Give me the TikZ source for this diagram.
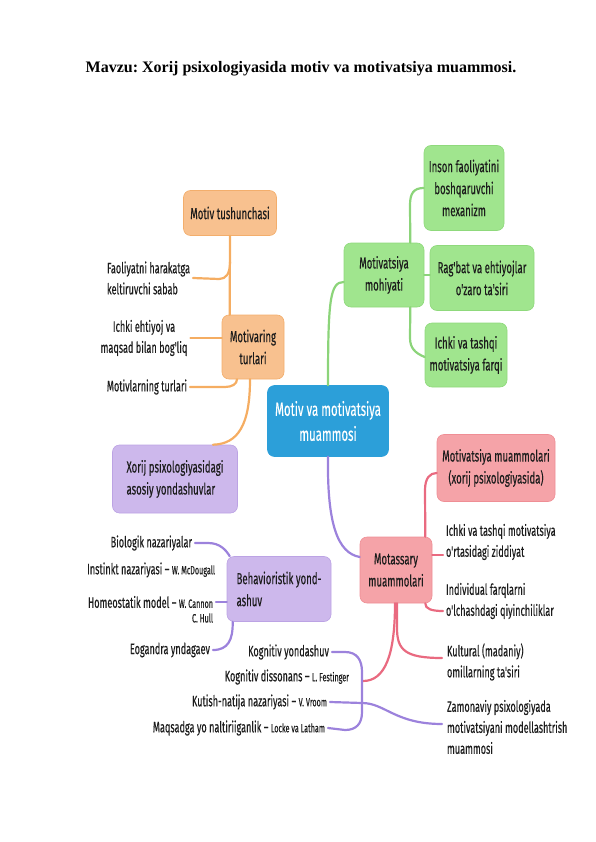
\documentclass[tikz,border=0pt]{standalone}
\usepackage{fontspec}
\setmainfont{Liberation Serif}
\newfontfamily\cf[FakeStretch=0.6,FakeBold=0.3]{Fira Sans}
\newcommand\authr[1]{{\fontsize{12}{14}\selectfont #1}}
\definecolor{ofill}{HTML}{F8C18F}
\definecolor{obord}{HTML}{F3AE6C}
\definecolor{olin}{HTML}{F5AD62}
\definecolor{gfill}{HTML}{A0E58E}
\definecolor{gbord}{HTML}{8FD97C}
\definecolor{glin}{HTML}{8CD47A}
\definecolor{bfill}{HTML}{2C9FD9}
\definecolor{pfill}{HTML}{F5A3A8}
\definecolor{pbord}{HTML}{EF8E95}
\definecolor{plin}{HTML}{E96A80}
\definecolor{vfill}{HTML}{CDB8EC}
\definecolor{vbord}{HTML}{BCA3E4}
\definecolor{vlin}{HTML}{9C82DC}
\definecolor{ink}{HTML}{1C1C1C}
\frenchspacing
\begin{document}
\begin{tikzpicture}[x=1pt,y=-1pt,
  box/.style={rounded corners=7pt, align=center, inner sep=2pt, line width=0.6pt,
    font=\cf\fontsize{16}{22}\selectfont, text=ink},
  obox/.style={box, fill=ofill, draw=obord},
  gbox/.style={box, fill=gfill, draw=gbord},
  pbox/.style={box, fill=pfill, draw=pbord},
  vbox/.style={box, fill=vfill, draw=vbord},
  cbox/.style={box, fill=bfill, draw=bfill, text=white, font=\cf\fontsize{19}{25}\selectfont},
  txt/.style={inner sep=0pt, outer sep=3pt, font=\cf\fontsize{15.2}{21}\selectfont, text=ink},
  lnk/.style={line width=2.2pt, line cap=round},
  oln/.style={lnk, draw=olin},
  gln/.style={lnk, draw=glin},
  pln/.style={lnk, draw=plin},
  vln/.style={lnk, draw=vlin}
]
\useasboundingbox (0,0) rectangle (596,842);

% title
\node[inner sep=0pt, font=\bfseries\fontsize{16}{19}\selectfont] (title) at (301,69)
  {Mavzu: Xorij psixologiyasida motiv va motivatsiya muammosi.};

% boxes
\node[obox, minimum width=93pt, minimum height=45pt] (tush) at (230,213) {Motiv tushunchasi};
\node[obox, minimum width=62pt, minimum height=64pt] (turl) at (253,347) {Motivaring\\turlari};
\node[gbox, minimum width=80pt, minimum height=64pt] (mohi) at (384,275) {Motivatsiya\\mohiyati};
\node[gbox, minimum width=80pt, minimum height=85pt] (inson) at (464,188) {Inson faoliyatini\\boshqaruvchi\\mexanizm};
\node[gbox, minimum width=104pt, minimum height=65pt] (rag) at (482,278) {Rag'bat va ehtiyojlar\\o'zaro ta'siri};
\node[gbox, minimum width=82pt, minimum height=64pt] (farq) at (466,355) {Ichki va tashqi\\motivatsiya farqi};
\node[cbox, minimum width=121pt, minimum height=71pt] (cent) at (328,421) {Motiv va motivatsiya\\muammosi};
\node[pbox, minimum width=118pt, minimum height=67pt] (mm) at (496,468) {Motivatsiya muammolari\\(xorij psixologiyasida)};
\node[pbox, minimum width=72pt, minimum height=66pt] (mot) at (396,570) {Motassary\\muammolari};
\node[vbox, align=left, minimum width=125pt, minimum height=68pt] (xorij) at (175,479) {Xorij psixologiyasidagi\\asosiy yondashuvlar};
\node[vbox, align=left, minimum width=104pt, minimum height=65pt] (beh) at (279,589) {Behavioristik yond-\\ashuv};

% plain texts (orange group)
\node[txt, anchor=west, align=left] (faol) at (104,278) {Faoliyatni harakatga\\keltiruvchi sabab};
\node[txt, align=center] (ichk) at (144,338) {Ichki ehtiyoj va\\maqsad bilan bog'liq};
\node[txt, anchor=east] (motl) at (190,387) {Motivlarning turlari};

% plain texts (pink group)
\node[txt, anchor=west, align=left] (zidd) at (443,542) {Ichki va tashqi motivatsiya\\o'rtasidagi ziddiyat};
\node[txt, anchor=west, align=left] (indiv) at (443,601) {Individual farqlarni\\o'lchashdagi qiyinchiliklar};
\node[txt, anchor=west, align=left] (kult) at (444,662) {Kultural (madaniy)\\omillarning ta'siri};
\node[txt, anchor=west, align=left] (zam) at (444,727) {Zamonaviy psixologiyada\\motivatsiyani modellashtrish\\muammosi};

% plain texts (purple group)
\node[txt, anchor=east] (bio) at (195,543) {Biologik nazariyalar};
\node[txt, anchor=east] (inst) at (218,570) {Instinkt nazariyasi – \authr{W. McDougall}};
\node[txt, anchor=east] (home) at (216,602) {Homeostatik model – \authr{W. Cannon}};
\node[txt, anchor=east] (hull) at (216,618) {\authr{C. Hull}};
\node[txt, anchor=east] (eog) at (213,650) {Eogandra yndagaev};
\node[txt, anchor=east] (kog) at (332,652) {Kognitiv yondashuv};
\node[txt, anchor=east] (diss) at (352,677) {Kognitiv dissonans – \authr{L. Festinger}};
\node[txt, anchor=east] (kut) at (330,702) {Kutish-natija nazariyasi – \authr{V. Vroom}};
\node[txt, anchor=east] (maq) at (328,728) {Maqsadga yo naltiriiganlik – \authr{Locke va Latham}};

% coordinates
\coordinate (oj) at (230,262);
\coordinate (fj) at (219,279);
\coordinate (gj1) at (410,205);
\coordinate (gj2) at (410,338);
\coordinate (pj1) at (425,490);
\coordinate (pind) at (443,611);
\coordinate (pk) at (442,658);
\coordinate (br) at (363,681);
\coordinate (bj1) at (345,652);
\coordinate (bj2) at (362,672);
\coordinate (bj3) at (362,712);
\coordinate (bj4) at (345,730);
\coordinate (bk) at (362,703);
\coordinate (zj) at (442,724);

% orange links
\draw[oln] (tush.south) -- ([xshift=8pt]turl.north west);
\draw[oln] (faol.east) -- (fj) .. controls (226,279) and (230,274) .. (oj);
\draw[oln] (ichk.east) -- (ichk.east -| turl.west);
\draw[oln] (motl.east) -- (225,387) .. controls (232,387) and (237,384) .. ([xshift=-16pt]turl.south);
\draw[oln] ([xshift=-3pt]turl.south) .. controls (250,425) and (238,444) .. ([xshift=38pt]xorij.north);

% green links
\draw[gln] (cent.north) .. controls (328,300) and (330,282) .. ([yshift=-7pt]mohi.west);
\draw[gln] ([xshift=-14pt]mohi.north east) -- (gj1) .. controls (410,193) and (414,188) .. (inson.west);
\draw[gln] (mohi.east) -- (mohi.east -| rag.west);
\draw[gln] ([xshift=-14pt]mohi.south east) -- (gj2) .. controls (410,348) and (415,353) .. ([yshift=-2pt]farq.west);

% pink links
\draw[pln] ([xshift=-7pt]mot.north east) -- (pj1) .. controls (425,478) and (430,473) .. ([yshift=-5pt]mm.west);
\draw[pln] ([yshift=15pt]mot.east) -- ([yshift=15pt]mot.east -| zidd.west);
\draw[pln] ([xshift=-7pt]mot.south east) .. controls (425,609) and (432,611) .. (pind);
\draw[pln] ([xshift=1pt]mot.south) -- (397,628) .. controls (397,650) and (405,658) .. (pk);
\draw[pln] ([xshift=-1pt]mot.south) .. controls (395,655) and (385,681) .. (br);

% purple links
\draw[vln] (cent.south) .. controls (327,525) and (338,553) .. ([yshift=13pt]mot.west);
\draw[vln] (bio.east) -- (208,543) .. controls (220,543) and (226,550) .. ([xshift=3pt]beh.north west);
\draw[vln] (home.east) -- (home.east -| beh.west);
\draw[vln] (eog.east) .. controls (228,650) and (233,640) .. ([xshift=6pt]beh.south west);
\draw[vln] (kog.east) -- (bj1) .. controls (357,652) and (362,660) .. (bj2) -- (bj3)
  .. controls (362,724) and (356,730) .. (bj4) -- (maq.east);
\draw[vln] (kut.east) -- (bk) .. controls (385,703) and (395,724) .. (zj);
\end{tikzpicture}
\end{document}
